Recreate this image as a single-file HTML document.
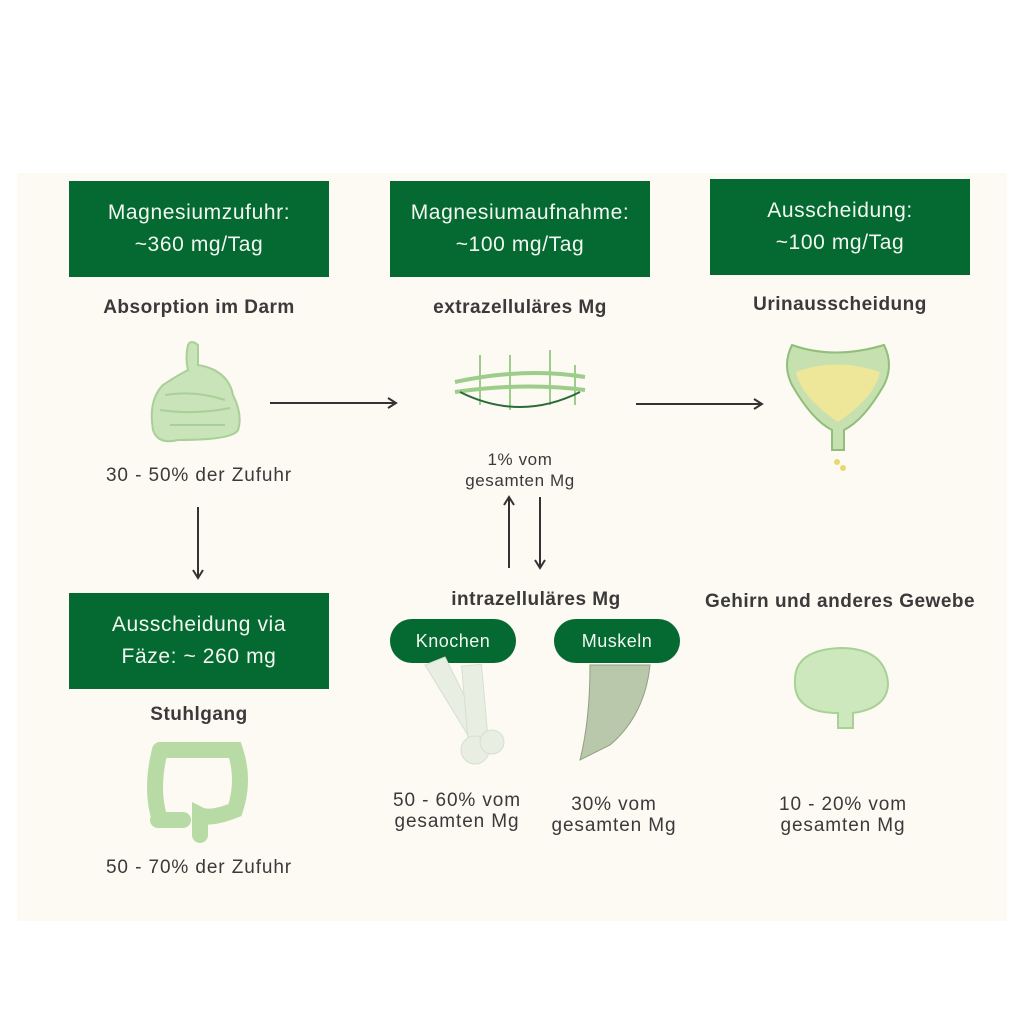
<!DOCTYPE html>
<html><head><meta charset="utf-8"><style>
body{margin:0;width:1024px;height:1024px;background:#fff;position:relative;font-family:"Liberation Sans",sans-serif;overflow:hidden}
.panel{position:absolute;left:17px;top:173px;width:990px;height:748px;background:#fdf9f3}
.box{position:absolute;background:#046a31;color:#f3f7f1;font-size:21px;letter-spacing:0.6px;line-height:32px;text-align:center;display:flex;align-items:center;justify-content:center}
.b{position:absolute;font-weight:bold;font-size:19px;letter-spacing:0.5px;color:#3a3a3a;text-align:center;white-space:nowrap}
.t{position:absolute;font-size:19px;letter-spacing:0.9px;color:#3a3a3a;text-align:center;line-height:21px;white-space:nowrap}
.pill{position:absolute;background:#046a31;color:#f3f7f1;font-size:18px;letter-spacing:0.5px;border-radius:22px;display:flex;align-items:center;justify-content:center}
svg{position:absolute;left:0;top:0}
</style></head><body>
<div class="panel"></div>
<div class="box" style="left:69px;top:181px;width:260px;height:96px">Magnesiumzufuhr:<br>~360 mg/Tag</div>
<div class="box" style="left:390px;top:181px;width:260px;height:96px">Magnesiumaufnahme:<br>~100 mg/Tag</div>
<div class="box" style="left:710px;top:179px;width:260px;height:96px">Ausscheidung:<br>~100 mg/Tag</div>
<div class="box" style="left:69px;top:593px;width:260px;height:96px">Ausscheidung via<br>Fäze: ~ 260 mg</div>
<div class="b" style="left:69px;width:260px;top:297px">Absorption im Darm</div>
<div class="b" style="left:390px;width:260px;top:297px">extrazelluläres Mg</div>
<div class="b" style="left:710px;width:260px;top:294px">Urinausscheidung</div>
<div class="b" style="left:69px;width:260px;top:704px">Stuhlgang</div>
<div class="b" style="left:406px;width:260px;top:589px">intrazelluläres Mg</div>
<div class="b" style="left:680px;width:320px;top:591px">Gehirn und anderes Gewebe</div>
<div class="t" style="left:69px;width:260px;top:465px">30 - 50% der Zufuhr</div>
<div class="t" style="left:69px;width:260px;top:857px">50 - 70% der Zufuhr</div>
<div class="t" style="left:390px;width:260px;top:449px;font-size:17px;letter-spacing:0.6px">1% vom<br>gesamten Mg</div>
<div class="t" style="left:327px;width:260px;top:790px">50 - 60% vom<br>gesamten Mg</div>
<div class="t" style="left:484px;width:260px;top:794px">30% vom<br>gesamten Mg</div>
<div class="t" style="left:713px;width:260px;top:794px">10 - 20% vom<br>gesamten Mg</div>
<div class="pill" style="left:390px;top:619px;width:126px;height:44px">Knochen</div>
<div class="pill" style="left:554px;top:619px;width:126px;height:44px">Muskeln</div>
<svg width="1024" height="1024">
<defs><marker id="a" markerWidth="14" markerHeight="14" refX="10" refY="7" orient="auto" markerUnits="userSpaceOnUse"><path d="M2,2 L10,7 L2,12" fill="none" stroke="#333" stroke-width="2"/></marker></defs>
<g stroke="#333" stroke-width="2" marker-end="url(#a)">
<line x1="270" y1="403" x2="396" y2="403"/>
<line x1="636" y1="404" x2="762" y2="404"/>
<line x1="198" y1="507" x2="198" y2="578"/>
<line x1="509" y1="568" x2="509" y2="497"/>
<line x1="540" y1="497" x2="540" y2="568"/>
</g>
<g fill="#c8e4b8" stroke="#a9d099" stroke-width="2">
<path d="M188,345 q3,-6 10,0 v20 q30,5 35,30 q10,20 5,35 q-5,10 -60,10 q-20,5 -25,-10 q-5,-30 10,-45 q15,-10 25,-15 q-3,-12 0,-25z"/>
<path d="M165,395 q30,-5 60,5 M160,410 q35,5 70,-2 M170,425 q30,0 55,0" fill="none"/>
</g>
<g stroke="#9ccd8b" stroke-width="4" fill="none">
<path d="M455,382 q70,-15 130,-5"/><path d="M455,392 q70,-10 130,-2"/>
<path d="M480,355 v50 M510,355 v55 M550,350 v55 M575,365 v40" stroke-width="2"/>
</g>
<path d="M460,392 q60,30 120,0" stroke="#2a6b3a" stroke-width="2" fill="none"/>
<path d="M792,345 q-10,20 0,40 q20,35 40,45 v20 h12 v-20 q20,-10 40,-45 q10,-20 0,-40 q-50,15 -92,0z" fill="#c6e0b0" stroke="#8fbf7a" stroke-width="2"/>
<path d="M796,372 q40,-15 84,0 q-5,25 -42,50 q-37,-25 -42,-50z" fill="#eee79a"/>
<circle cx="837" cy="462" r="3" fill="#e8d870"/><circle cx="843" cy="468" r="3" fill="#e8d870"/>
<path d="M160,750 q-10,40 0,70 M160,750 h75 q10,30 0,60 q-25,10 -35,5 v20 M158,820 h25" stroke="#b8dba5" stroke-width="16" fill="none" stroke-linecap="round"/>
<g fill="#e8efe2" stroke="#d6e0cf">
<path d="M425,665 l55,90 l10,-8 l-45,-90z"/>
<rect x="465" y="665" width="20" height="80" transform="rotate(-5 475 705)"/>
<circle cx="475" cy="750" r="14"/><circle cx="492" cy="742" r="12"/>
</g>
<path d="M590,665 h60 q-5,50 -40,80 l-30,15 q10,-40 10,-95z" fill="#b9c8aa" stroke="#8fa081"/>
<path d="M795,680 q0,-30 45,-32 q45,0 48,35 q0,25 -35,30 v15 h-15 v-15 q-45,0 -43,-33z" fill="#cde8bd" stroke="#a8d196" stroke-width="2"/>
</svg>
</body></html>
